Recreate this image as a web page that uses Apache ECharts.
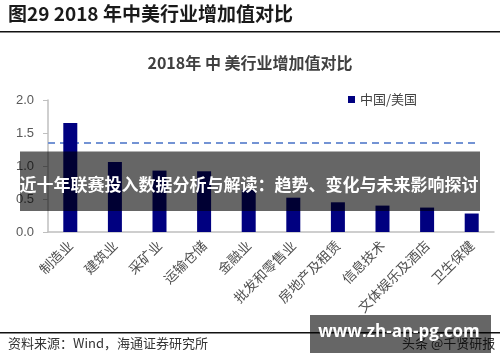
<!DOCTYPE html>
<html><head><meta charset="utf-8">
<script src="https://cdn.jsdelivr.net/npm/echarts@6/dist/echarts.min.js"></script>
<style>html,body{margin:0;padding:0;background:#fff}#c{width:500px;height:362px}</style>
</head><body><div id="c"></div>
<script>
var pageTitle = '图29 2018 年中美行业增加值对比';
var chartTitle = '2018年 中 美行业增加值对比';
var seriesName = '中国/美国';
var categories = ['制造业','建筑业','采矿业','运输仓储','金融业','批发和零售业','房地产及租赁','信息技术','文体娱乐及酒店','卫生保健'];
var ratioValues = [1.65, 1.06, 0.93, 0.92, 0.64, 0.52, 0.45, 0.40, 0.37, 0.28];
var refLineX = [0, 9.65];
var refLineY = [1.35, 1.35];
var yTicks = [0, 0.5, 1.0, 1.5, 2.0];
var sourceText = '资料来源：Wind，海通证券研究所';
var bannerText = '近十年联赛投入数据分析与解读：趋势、变化与未来影响探讨';
var watermarkText = 'www.zh-an-pg.com';
var underMark = '头条 @千贤研报';

var chart = echarts.init(document.getElementById('c'), null, {renderer:'canvas'});
var cjk = '"Noto Sans CJK SC", "Noto Sans", sans-serif';
chart.setOption({
  animation:false,
  backgroundColor:'#fff',
  title:{text:chartTitle,left:'center',top:50,textStyle:{fontSize:16,fontWeight:'bold',color:'#404040',fontFamily:cjk}},
  legend:{data:[seriesName],left:343,top:88,itemWidth:7,itemHeight:7,icon:'rect',itemGap:4,textStyle:{fontSize:13,color:'#404040',fontFamily:cjk}},
  grid:{left:48,right:6,top:100,bottom:130,containLabel:false},
  xAxis:[{type:'category',data:categories,
    axisLine:{lineStyle:{color:'#bfbfbf',width:1.5}},axisTick:{show:false},
    axisLabel:{rotate:45,interval:0,margin:11,fontSize:13.5,color:'#505050',fontFamily:cjk}},
    {type:'value',min:0,max:10,show:false}],
  yAxis:{type:'value',min:yTicks[0],max:yTicks[yTicks.length-1],interval:0.5,
    axisLine:{show:true,lineStyle:{color:'#bfbfbf',width:1.5}},
    axisTick:{show:true,length:5,lineStyle:{color:'#bfbfbf'}},
    splitLine:{show:false},
    axisLabel:{margin:14,fontSize:13,color:'#595959',fontFamily:'"Liberation Sans", Arial, sans-serif',
      formatter:function(v){return v.toFixed(1);}}},
  series:[
    {name:seriesName,type:'bar',data:ratioValues,barWidth:14,itemStyle:{color:'#000080'}},
    {name:'ref',type:'line',xAxisIndex:1,data:refLineX.map(function(x,i){return [x,refLineY[i]];}),
      symbol:'none',lineStyle:{color:'#7393d4',width:2,type:[7,5]},z:1}
  ],
  graphic:[
    {type:'text',left:8,top:4,style:{text:pageTitle,fontSize:19,fontWeight:'bold',fill:'#1a1a1a',fontFamily:cjk}},
    {type:'rect',shape:{x:0,y:31,width:500,height:1.6},style:{fill:'#111'}},
    {type:'rect',shape:{x:0,y:332,width:500,height:1.6},style:{fill:'#111'}},
    {type:'text',left:8,top:337,style:{text:sourceText,fontSize:13,fill:'#333',fontFamily:cjk}},
    {type:'text',left:402,top:337,style:{text:underMark,fontSize:13,fill:'#333',fontFamily:cjk}},
    {type:'rect',shape:{x:20,y:151.5,width:460,height:59.5},style:{fill:'rgba(0,0,0,0.6)'},z:100},
    {type:'text',x:249,y:185,z:101,style:{text:bannerText,fontSize:17,fontWeight:'bold',fill:'#fff',align:'center',verticalAlign:'middle',fontFamily:cjk}},
    {type:'rect',shape:{x:310,y:315,width:181,height:38},style:{fill:'rgba(0,0,0,0.6)'},z:100},
    {type:'text',x:399,y:332,z:101,style:{text:watermarkText,fontSize:17,fontWeight:'bold',fill:'#fff',align:'center',verticalAlign:'middle',fontFamily:'"Open Sans", "Liberation Sans", sans-serif'}}
  ]
});
</script></body></html>
